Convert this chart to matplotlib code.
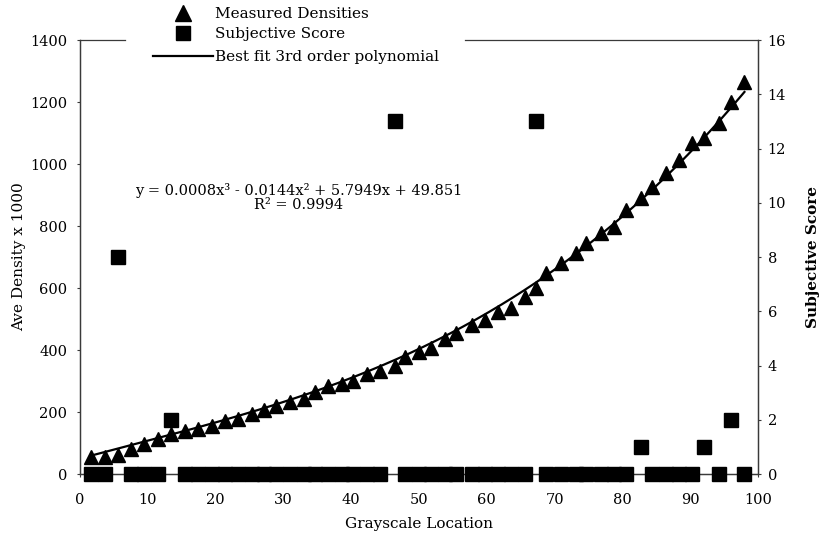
import matplotlib
matplotlib.use("Agg")
import matplotlib.pyplot as plt
from matplotlib.lines import Line2D
import numpy as np

# Grayscale step locations and measured densities (x 1000)
locations = [1.6, 3.7, 5.6, 7.5, 9.5, 11.5, 13.4, 15.5, 17.4, 19.4, 21.4, 23.3,
             25.3, 27.1, 28.9, 30.9, 33.0, 34.6, 36.6, 38.6, 40.3, 42.3, 44.3,
             46.5, 48.0, 50.0, 51.8, 53.9, 55.5, 57.8, 59.8, 61.7, 63.5, 65.7,
             67.2, 68.8, 71.0, 73.1, 74.7, 76.8, 78.7, 80.5, 82.7, 84.3, 86.4,
             88.3, 90.3, 92.0, 94.2, 96.0, 98.0]
densities = [55, 55, 60, 80, 96, 113, 128, 138, 146, 155, 170, 178, 193, 208,
             218, 232, 243, 265, 283, 289, 299, 322, 331, 347, 376, 395, 408,
             434, 456, 482, 498, 521, 537, 572, 601, 650, 682, 714, 746, 778,
             797, 852, 891, 926, 971, 1013, 1067, 1083, 1132, 1199, 1264]
scores = [0, 0, 8, 0, 0, 0, 2, 0, 0, 0, 0, 0, 0, 0, 0, 0, 0, 0, 0, 0, 0, 0, 0,
          13, 0, 0, 0, 0, 0, 0, 0, 0, 0, 0, 13, 0, 0, 0, 0, 0, 0, 0, 1, 0, 0,
          0, 0, 1, 0, 2, 0]

# Third-order fit coefficients (highest power first)
fit_coeffs = [0.0008, -0.0144, 5.7949, 49.851]
r_squared = 0.9994

x_ticks = list(range(0, 101, 10))
density_ticks = list(range(0, 1401, 200))
score_ticks = list(range(0, 17, 2))

FONT = "DejaVu Serif"
plt.rcParams["font.family"] = FONT
spine_color = "#3a3a3a"

fig = plt.figure(figsize=(8.24, 5.42), dpi=100)
W, H = 824, 542
ax = fig.add_axes([80 / W, 1 - 474 / H, 678 / W, 434 / H])
ax2 = ax.twinx()

ax.set_xlim(0, 100)
ax.set_ylim(0, 1400)
ax2.set_ylim(0, 16)

# Fitted curve and measured points
xf = np.linspace(min(locations), max(locations), 300)
ax.plot(xf, np.polyval(fit_coeffs, xf), color="black", lw=1.6, zorder=3)
ax.plot(locations, densities, linestyle="none", marker="^", markersize=10.5,
        color="black", zorder=4, clip_on=False)

ax2.plot(locations, scores, linestyle="none", marker="s", markersize=9.5,
         color="black", zorder=4, clip_on=False)

# Axes styling
for a in (ax, ax2):
    for side in ("left", "right", "bottom"):
        a.spines[side].set_color(spine_color)
        a.spines[side].set_linewidth(0.9)
    a.spines["top"].set_visible(False)

ax.set_xticks(x_ticks)
ax.set_yticks(density_ticks)
ax2.set_yticks(score_ticks)
ax.tick_params(axis="x", length=2, width=0.8, color=spine_color, pad=12,
               labelsize=10.5)
ax.tick_params(axis="y", length=2, width=0.8, color=spine_color, pad=7,
               labelsize=10.5)
ax2.tick_params(axis="y", length=2, width=0.8, color=spine_color, pad=5,
                labelsize=10.5)

# Broken top frame on either side of the key
for x0, x1 in ((0.0, 0.066), (0.568, 1.0)):
    ax2.plot([x0, x1], [1, 1], transform=ax2.transAxes, color=spine_color,
             lw=0.9, clip_on=False)

ax.set_xlabel("Grayscale Location", fontsize=11, labelpad=7)
ax.set_ylabel("Ave Density x 1000", fontsize=11, labelpad=3)
ax2.set_ylabel("Subjective Score", fontsize=11, labelpad=14,
               rotation=90, fontweight="bold")

# Fit equation
eq = "y = {:.4f}x\u00b3 - {:.4f}x\u00b2 + {:.4f}x + {:.3f}".format(
    fit_coeffs[0], -fit_coeffs[1], fit_coeffs[2], fit_coeffs[3])
ax.text(32.3, 916, eq, ha="center", va="center", fontsize=10.5)
ax.text(32.3, 869, "R\u00b2 = {:.4f}".format(r_squared), ha="center",
        va="center", fontsize=10.5)

# Key: marker entries, then the fitted-line entry a little lower
marker_handles = [
    Line2D([], [], linestyle="none", marker="^", markersize=11, color="black"),
    Line2D([], [], linestyle="none", marker="s", markersize=9.5, color="black"),
]
marker_labels = ["Measured Densities", "Subjective Score"]
line_handles = [Line2D([], [], color="black", lw=1.6)]
line_labels = ["Best fit 3rd order polynomial"]

common = dict(loc="upper left", frameon=False, fontsize=11, handlelength=3.9,
              handletextpad=0.15, labelspacing=0.4, borderpad=0,
              borderaxespad=0, numpoints=1)
leg1 = fig.legend(marker_handles, marker_labels,
                  bbox_to_anchor=(153 / W, 1 - 7 / H), **common)
leg2 = fig.legend(line_handles, line_labels,
                  bbox_to_anchor=(153 / W, 1 - 50 / H), **common)

fig.savefig("out.png", dpi=100)
